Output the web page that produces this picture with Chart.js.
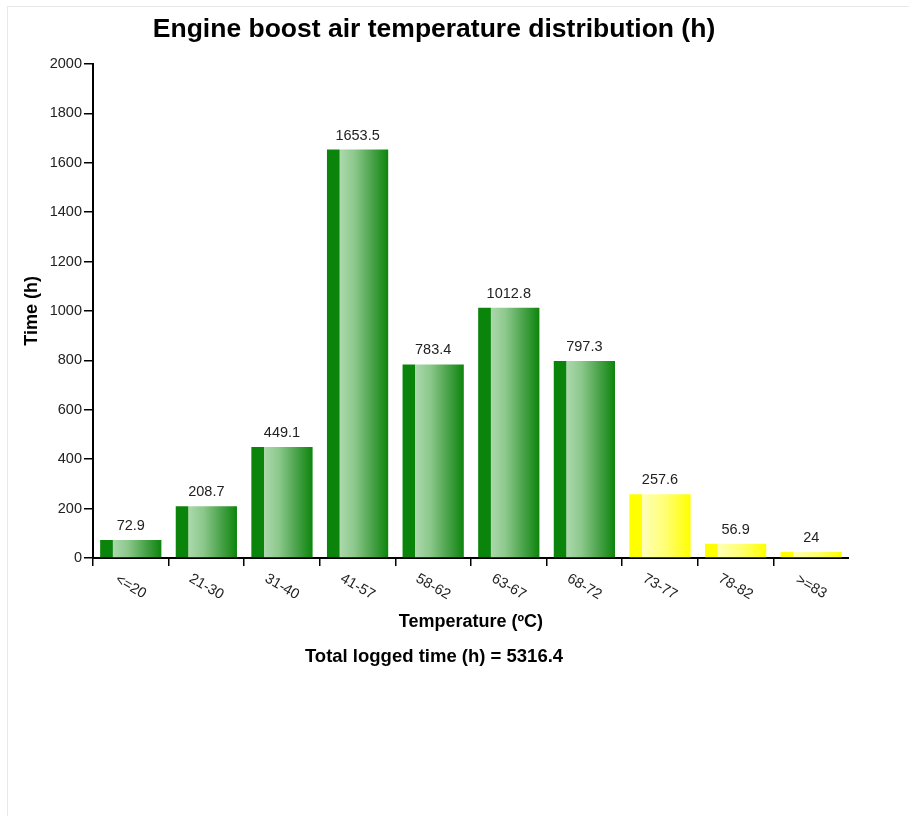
<!DOCTYPE html>
<html>
<head>
<meta charset="utf-8">
<script src="https://cdn.jsdelivr.net/npm/chart.js@4.4.0/dist/chart.umd.min.js"></script>
<style>
    body { margin: 0; background: #fff; overflow: hidden; }
    #frame { position: absolute; left: 7px; top: 6px; width: 1000px; height: 1000px; border: 1px solid #e8e8e8; }
    #wrap { position: absolute; left: 19px; top: 7px; width: 830px; height: 671px; }
</style>
</head>
<body>
<div id="frame"></div>
<div id="wrap"><canvas id="chartCanvas"></canvas></div>
<script>
    var categories = ["<=20", "21-30", "31-40", "41-57", "58-62", "63-67", "68-72", "73-77", "78-82", ">=83"];
    var hours = [72.9, 208.7, 449.1, 1653.5, 783.4, 1012.8, 797.3, 257.6, 56.9, 24];
    var barTone = ["green", "green", "green", "green", "green", "green", "green", "yellow", "yellow", "yellow"];
    var yTicks = [0, 200, 400, 600, 800, 1000, 1200, 1400, 1600, 1800, 2000];
    var totalTime = 5316.4;

    var FONT = "'Liberation Sans', Arial, sans-serif";
    var BAR_PCT = 0.81;

    var stops = {
        green: [[0, "#0b840b"], [0.2, "#0b840b"], [0.21, "#acd8ac"], [0.45, "#8cc88c"], [0.72, "#4ea54e"], [1, "#0c850c"]],
        yellow: [[0, "#ffff00"], [0.2, "#ffff00"], [0.21, "#ffffb8"], [0.6, "#ffff70"], [1, "#ffff00"]]
    };

    var barFill = function(ctx) {
        var chart = ctx.chart;
        var xs = chart.scales.x;
        if (!chart.chartArea || !xs) return barTone[ctx.dataIndex] === "yellow" ? "#ffff00" : "#0b840b";
        var cx = xs.getPixelForValue(ctx.dataIndex);
        var w = xs.width / categories.length * BAR_PCT;
        var g = chart.ctx.createLinearGradient(cx - w / 2, 0, cx + w / 2, 0);
        stops[barTone[ctx.dataIndex]].forEach(function(s) { g.addColorStop(s[0], s[1]); });
        return g;
    };

    var valueLabels = {
        id: "valueLabels",
        afterDatasetsDraw: function(chart) {
            var c = chart.ctx;
            var meta = chart.getDatasetMeta(0);
            c.save();
            c.font = "14.5px " + FONT;
            c.fillStyle = "#222";
            c.textAlign = "center";
            c.textBaseline = "alphabetic";
            meta.data.forEach(function(bar, i) {
                c.fillText(String(hours[i]), bar.x, bar.y - 10);
            });
            c.restore();
        }
    };

    var slantedTicks = {
        id: "slantedTicks",
        afterDraw: function(chart) {
            var c = chart.ctx;
            var xs = chart.scales.x;
            c.save();
            c.font = "14.5px " + FONT;
            c.fillStyle = "#222";
            c.textAlign = "center";
            c.textBaseline = "middle";
            categories.forEach(function(lab, i) {
                c.save();
                c.translate(xs.getPixelForValue(i), xs.top + 29);
                c.rotate(30 * Math.PI / 180);
                c.fillText(lab, 0, 0);
                c.restore();
            });
            c.restore();
        }
    };

    window.onload = function() {
        var ctx = document.getElementById("chartCanvas").getContext("2d");
        window.myBar = new Chart(ctx, {
            type: "bar",
            data: {
                labels: categories,
                datasets: [{
                    data: hours,
                    backgroundColor: barFill,
                    borderWidth: 0,
                    barPercentage: BAR_PCT,
                    categoryPercentage: 1
                }]
            },
            options: {
                responsive: true,
                maintainAspectRatio: false,
                animation: false,
                events: [],
                plugins: {
                    legend: { display: false },
                    tooltip: { enabled: false },
                    title: {
                        display: true,
                        text: "Engine boost air temperature distribution (h)",
                        color: "#000",
                        font: { family: FONT, size: 26.5, weight: "bold" },
                        padding: { top: 7.1, bottom: 18.1 }
                    },
                    subtitle: {
                        display: true,
                        position: "bottom",
                        text: "Total logged time (h) = " + totalTime,
                        color: "#000",
                        font: { family: FONT, size: 18.5, weight: "bold" },
                        padding: { top: 9.1, bottom: 10 }
                    }
                },
                scales: {
                    x: {
                        grid: {
                            drawOnChartArea: false,
                            drawTicks: true,
                            tickLength: 8,
                            color: function(c) { return c.type === "tick" ? "#000" : "rgba(0,0,0,0)"; },
                            lineWidth: 1.5
                        },
                        border: { color: "#000", width: 2 },
                        ticks: { display: false },
                        title: {
                            display: true,
                            text: "Temperature (\u00BAC)",
                            color: "#000",
                            font: { family: FONT, size: 18, weight: "bold" },
                            padding: { top: 45.2, bottom: 4 }
                        }
                    },
                    y: {
                        min: 0,
                        max: 2000,
                        afterBuildTicks: function(axis) {
                            axis.ticks = yTicks.map(function(v) { return { value: v }; });
                        },
                        grid: {
                            drawOnChartArea: false,
                            drawTicks: true,
                            tickLength: 9,
                            color: "#000",
                            lineWidth: 1.5
                        },
                        border: { color: "#000", width: 2 },
                        ticks: {
                            color: "#222",
                            padding: 2,
                            font: { family: FONT, size: 14.5 },
                            callback: function(v) { return String(v); }
                        },
                        title: {
                            display: true,
                            text: "Time (h)",
                            color: "#000",
                            font: { family: FONT, size: 18, weight: "bold" },
                            padding: { top: 2.2, bottom: 4.9 }
                        }
                    }
                }
            },
            plugins: [valueLabels, slantedTicks]
        });
    };
</script>
</body>
</html>
